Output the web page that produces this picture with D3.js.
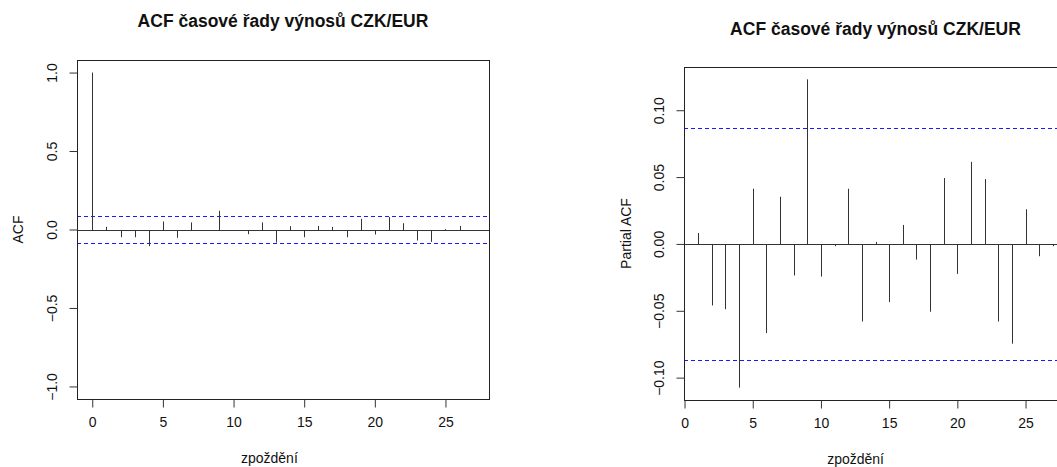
<!DOCTYPE html>
<html>
<head>
<meta charset="utf-8">
<script src="https://cdn.jsdelivr.net/npm/d3@7"></script>
<style>
  html, body { margin: 0; padding: 0; background: #fff; }
  svg { display: block; }
  text { font-family: "Liberation Sans", Arial, sans-serif; fill: #111; }
</style>
</head>
<body>
<svg id="chart" width="1057" height="467"></svg>
<script>
// ---- data ----
const title = "ACF časové řady výnosů CZK/EUR";
const xLabel = "zpoždění";
const acfLags = d3.range(0, 28);
const acfValues = [1.0, 0.017, -0.049, -0.049, -0.106, 0.051, -0.053, 0.045, -0.006, 0.119,
  -0.006, -0.030, 0.045, -0.083, 0.021, -0.049, 0.023, 0.017, -0.049, 0.068,
  -0.032, 0.079, 0.040, -0.070, -0.079, 0.002, 0.023, -0.009];
const pacfLags = d3.range(1, 28);
const pacfValues = [0.0082, -0.046, -0.0488, -0.1075, 0.0413, -0.0667, 0.0353, -0.0236, 0.1231,
  -0.0244, -0.0017, 0.0413, -0.058, 0.0015, -0.0435, 0.0142, -0.0117, -0.0507, 0.0493,
  -0.0224, 0.0614, 0.0485, -0.058, -0.0746, 0.0259, -0.0092, -0.0017];
const confLimit = 0.0866;
const xTicks = [0, 5, 10, 15, 20, 25];
const acfYLimits = [-1, 1];
const acfYTicks = [-1.0, -0.5, 0.0, 0.5, 1.0];
const pacfYTicks = [-0.10, -0.05, 0.00, 0.05, 0.10];

const svg = d3.select("#chart");

function pad(ext) { const r = ext[1] - ext[0]; return [ext[0] - 0.04 * r, ext[1] + 0.04 * r]; }

function panel(opt) {
  const g = svg.append("g");
  const x = d3.scaleLinear().domain(pad(d3.extent(opt.lags))).range([opt.left, opt.right]);
  const yExt = d3.extent(opt.values.concat([confLimit, -confLimit]));
  const y = d3.scaleLinear().domain(opt.yLimits ? pad(opt.yLimits) : pad(yExt)).range([opt.bottom, opt.top]);

  // title
  g.append("text").attr("x", (opt.left + opt.right) / 2).attr("y", opt.titleY)
    .attr("text-anchor", "middle").style("font-size", "17.5px").style("font-weight", "bold")
    .text(title);

  // zero line
  g.append("line").attr("x1", opt.left).attr("x2", opt.right)
    .attr("y1", Math.round(y(0)) + 0.5).attr("y2", Math.round(y(0)) + 0.5).attr("stroke", "#333").attr("stroke-width", 1);

  // conf limits
  [confLimit, -confLimit].forEach(c => {
    g.append("line").attr("x1", opt.left).attr("x2", opt.right)
      .attr("y1", Math.round(y(c)) + 0.5).attr("y2", Math.round(y(c)) + 0.5)
      .attr("stroke", "#1a1aff").attr("stroke-width", 1).attr("stroke-dasharray", "4,3");
  });

  // spikes
  g.selectAll("line.spike").data(opt.lags.map((l, i) => [l, opt.values[i]]))
    .enter().append("line").attr("class", "spike")
    .attr("x1", d => Math.round(x(d[0])) + 0.5).attr("x2", d => Math.round(x(d[0])) + 0.5)
    .attr("y1", Math.round(y(0)) + 0.5).attr("y2", d => y(d[1]))
    .attr("stroke", "#333").attr("stroke-width", 1);

  // box
  g.append("rect").attr("x", opt.left + 0.5).attr("y", opt.top + 0.5)
    .attr("width", opt.right - opt.left).attr("height", opt.bottom - opt.top)
    .attr("fill", "none").attr("stroke", "#222").attr("stroke-width", 1);

  // x axis
  const xa = g.append("g").attr("transform", `translate(0,${opt.bottom + 0.5})`)
    .call(d3.axisBottom(x).tickValues(xTicks).tickSize(8).tickPadding(10).tickFormat(d3.format("d")));
  xa.select(".domain").remove();
  xa.selectAll(".tick line").attr("stroke", "#333");
  xa.selectAll("text").style("font-size", "14px").attr("fill", "#111");

  // y axis
  const ya = g.append("g").attr("transform", `translate(${opt.left + 0.5},0)`)
    .call(d3.axisLeft(y).tickValues(opt.yTicks).tickSize(8).tickFormat(opt.fmt));
  ya.select(".domain").remove();
  ya.selectAll(".tick line").attr("stroke", "#333");
  ya.selectAll(".tick text").remove();
  ya.selectAll(".tick").append("text")
    .attr("transform", `translate(${opt.yLabX - opt.left - 0.5},0) rotate(-90)`)
    .attr("text-anchor", "middle").attr("dy", "0.36em")
    .style("font-size", "14px").attr("fill", "#111")
    .text(opt.fmt);

  // axis titles
  g.append("text").attr("x", (x(0) + x(25)) / 2 + 0.5).attr("y", opt.xTitleY)
    .attr("text-anchor", "middle").style("font-size", "14px").text(xLabel);
  g.append("text").attr("transform", `translate(${opt.yTitleX},${(opt.top + opt.bottom) / 2}) rotate(-90)`)
    .attr("text-anchor", "middle").attr("dy", "0.36em").style("font-size", "14px").text(opt.yTitle);
}

panel({
  lags: acfLags, values: acfValues, yLimits: acfYLimits, yTicks: acfYTicks, fmt: d3.format(".1f"),
  left: 77, right: 489, top: 60, bottom: 399,
  titleY: 27, xTitleY: 463, yLabX: 52, yTitleX: 18, yTitle: "ACF"
});

panel({
  lags: pacfLags, values: pacfValues, yTicks: pacfYTicks, fmt: d3.format(".2f"),
  left: 684, right: 1067, top: 67, bottom: 400,
  titleY: 34.5, xTitleY: 463.5, yLabX: 659, yTitleX: 626, yTitle: "Partial ACF"
});
</script>
</body>
</html>
